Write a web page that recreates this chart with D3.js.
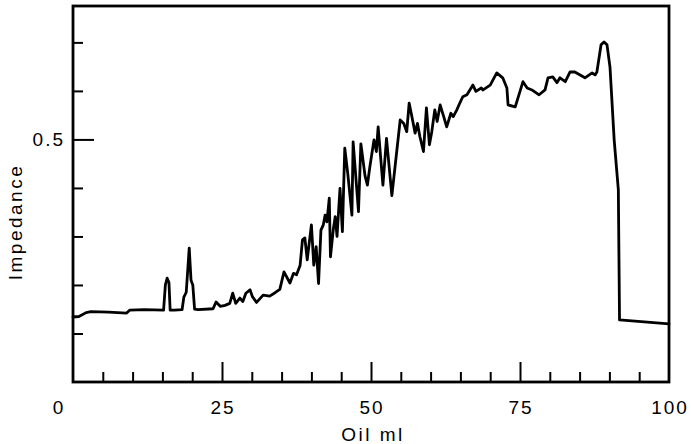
<!DOCTYPE html>
<html>
<head>
<meta charset="utf-8">
<script src="https://cdn.jsdelivr.net/npm/d3@7"></script>
<style>
  html, body { margin: 0; padding: 0; background: #fff; }
  svg { display: block; }
  text { font-family: "Liberation Sans", Arial, Helvetica, sans-serif; fill: #000; }
</style>
</head>
<body>
<svg id="chart" width="691" height="444"></svg>
<script>
// ---- data ----
const oilMl = [0, 1, 2.2, 3, 6, 9, 9.5, 12, 15.2, 15.5, 15.8, 16.1, 16.3, 17, 18.3, 18.6, 19.0, 19.5, 19.8, 20.1, 20.4, 21,
  23.5, 24.0, 24.7, 25.5, 26.3, 26.8, 27.3, 28.0, 28.5, 29.0, 29.7, 30.1, 30.8, 31.9, 33.0, 33.9, 34.7, 35.4, 36.4, 37.0, 37.5,
  38.1, 38.5, 38.9, 39.3, 40.0, 40.4, 40.8, 41.2, 41.6, 42.0, 42.3, 42.6, 43.0, 43.2, 43.7, 44.0, 44.3, 44.8, 45.2, 45.6, 46.1,
  46.8, 47.0, 47.9, 48.3, 49.0, 49.4, 49.8, 50.5, 50.9, 51.2, 52.0, 52.6, 53.5, 54.9, 55.5, 56.0, 56.4, 56.8, 57.4, 57.8, 58.2,
  58.8, 59.3, 59.8, 60.2, 60.7, 61.1, 61.6, 62.1, 62.7, 63.4, 63.8, 64.4, 64.9, 65.4, 66.1, 67.1, 67.6, 68.5, 68.8, 70.0, 71.1,
  72.1, 72.8, 73.0, 74.2, 75.5, 76.2, 77.0, 78.2, 79.2, 79.7, 80.5, 81.2, 81.7, 82.6, 83.4, 84.2, 85.9, 87.1, 87.6, 87.9, 88.6,
  89.1, 89.6, 90.1, 90.8, 91.5, 91.7, 100];
const impedance = [0.134, 0.135, 0.143, 0.145, 0.144, 0.142, 0.148, 0.149, 0.148, 0.200, 0.214, 0.205, 0.148, 0.148, 0.149, 0.175, 0.185, 0.276, 0.210, 0.200, 0.150, 0.149,
  0.151, 0.165, 0.156, 0.158, 0.162, 0.183, 0.162, 0.173, 0.166, 0.183, 0.190, 0.176, 0.164, 0.179, 0.177, 0.184, 0.191, 0.227, 0.204, 0.224, 0.221,
  0.240, 0.293, 0.297, 0.252, 0.324, 0.241, 0.279, 0.203, 0.313, 0.324, 0.344, 0.330, 0.379, 0.258, 0.317, 0.341, 0.300, 0.399, 0.310, 0.482, 0.430,
  0.344, 0.495, 0.351, 0.491, 0.425, 0.406, 0.443, 0.499, 0.475, 0.526, 0.406, 0.502, 0.384, 0.540, 0.533, 0.516, 0.575, 0.551, 0.513, 0.533, 0.506,
  0.475, 0.565, 0.489, 0.516, 0.561, 0.537, 0.571, 0.551, 0.526, 0.554, 0.547, 0.561, 0.575, 0.588, 0.592, 0.612, 0.599, 0.606, 0.602, 0.612, 0.637,
  0.627, 0.606, 0.571, 0.567, 0.619, 0.606, 0.602, 0.592, 0.602, 0.627, 0.629, 0.617, 0.627, 0.619, 0.639, 0.639, 0.627, 0.637, 0.633, 0.639, 0.695,
  0.701, 0.695, 0.649, 0.499, 0.396, 0.128, 0.120];

const xMajorTicks = [0, 25, 50, 75, 100];
const xMinorTicks = [5, 10, 15, 20, 30, 35, 40, 45, 55, 60, 65, 70, 80, 85, 90, 95];
const xTickLabels = ["0", "25", "50", "75", "100"];
const yMajorTicks = [0.5];
const yMinorTicks = [0.1, 0.2, 0.3, 0.4, 0.6, 0.7];
const yTickLabels = ["0.5"];
const xTitle = "Oil ml";
const yTitle = "Impedance";

// ---- layout ----
const mLeft = 73, mRight = 669, mTop = 6, mBottom = 382;
const svg = d3.select("#chart");

const x = d3.scaleLinear().domain([0, 100]).range([mLeft, mRight]);
const y = d3.scaleLinear().domain([0, 0.775]).range([mBottom, mTop]);

// data line
const data = oilMl.map((d, i) => [d, impedance[i]]);
svg.append("path")
  .datum(data)
  .attr("fill", "none")
  .attr("stroke", "#000")
  .attr("stroke-width", 2.8)
  .attr("stroke-linejoin", "round")
  .attr("stroke-linecap", "round")
  .attr("d", d3.line().x(d => x(d[0])).y(d => y(d[1])));

// frame
svg.append("rect")
  .attr("x", mLeft).attr("y", mTop)
  .attr("width", mRight - mLeft).attr("height", mBottom - mTop)
  .attr("fill", "none").attr("stroke", "#000").attr("stroke-width", 2.8);

// x axis ticks (inside, pointing up)
const xAxisMinor = d3.axisTop(x).tickValues(xMinorTicks).tickSize(10).tickFormat("");
const xAxisMajor = d3.axisTop(x).tickValues(xMajorTicks.filter(v => v > 0 && v < 100)).tickSize(20).tickFormat("");
[xAxisMinor, xAxisMajor].forEach(ax => {
  const g = svg.append("g").attr("transform", `translate(0,${mBottom})`).call(ax);
  g.select(".domain").remove();
  g.selectAll("line").attr("stroke", "#000").attr("stroke-width", 2);
});

// y axis ticks (inside, pointing right)
const yAxisMinor = d3.axisRight(y).tickValues(yMinorTicks).tickSize(10).tickFormat("");
const yAxisMajor = d3.axisRight(y).tickValues(yMajorTicks).tickSize(21).tickFormat("");
[yAxisMinor, yAxisMajor].forEach(ax => {
  const g = svg.append("g").attr("transform", `translate(${mLeft},0)`).call(ax);
  g.select(".domain").remove();
  g.selectAll("line").attr("stroke", "#000").attr("stroke-width", 2);
});

// x tick labels
svg.append("g").selectAll("text")
  .data(xMajorTicks)
  .join("text")
  .attr("x", (d, i) => x(d) + (i === 0 ? -14 : 1))
  .attr("y", 414)
  .attr("text-anchor", "middle")
  .attr("font-size", 19)
  .attr("letter-spacing", 2)
  .text((d, i) => xTickLabels[i]);

// y tick labels
svg.append("g").selectAll("text")
  .data(yMajorTicks)
  .join("text")
  .attr("x", mLeft - 8)
  .attr("y", d => y(d) + 7)
  .attr("text-anchor", "end")
  .attr("font-size", 19)
  .attr("letter-spacing", 2)
  .text((d, i) => yTickLabels[i]);

// axis titles
svg.append("text")
  .attr("x", (mLeft + mRight) / 2 + 2)
  .attr("y", 441)
  .attr("text-anchor", "middle")
  .attr("font-size", 19)
  .attr("letter-spacing", 2.5)
  .text(xTitle);

svg.append("text")
  .attr("transform", `translate(22,222) rotate(-90)`)
  .attr("text-anchor", "middle")
  .attr("font-size", 19)
  .attr("letter-spacing", 2.5)
  .text(yTitle);
</script>
</body>
</html>
